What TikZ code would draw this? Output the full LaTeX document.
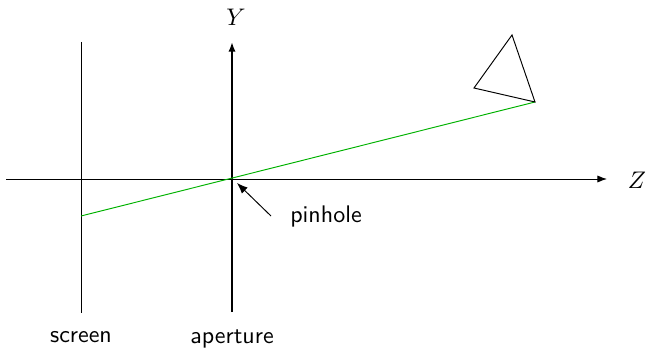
\documentclass[tikz,border=0pt]{standalone}
\usetikzlibrary{arrows.meta}
\begin{document}
\begin{tikzpicture}[x=0.4167pt,y=-0.4167pt,
  axis/.style={line width=0.4pt,-{Latex[length=4pt,width=3pt]}},
  lbl/.style={font=\sffamily,inner sep=1pt},
  ray/.style={green!70!black,line width=0.4pt}]
\useasboundingbox (0,0) rectangle (647,350);
% coordinates
\coordinate (zl) at (6,179);
\coordinate (zr) at (607,179);
\coordinate (yb) at (232,312);
\coordinate (yt) at (232,42);
\coordinate (st) at (81,42);
\coordinate (sb) at (81,313);
\coordinate (s) at (81,216);
\coordinate (t1) at (535,102);
\coordinate (t2) at (474,88);
\coordinate (t3) at (512,35);
\coordinate (ph) at (237,183);
\coordinate (pt) at (271,216);
% axes
\draw[axis] (zl) -- (zr);
\draw[axis,line width=0.9pt] (yb) -- (yt);
\draw[line width=0.4pt] (st) -- (sb);
% labels
\node (Z) at (637,180) {$Z$};
\node (Y) at (236,17) {$Y$};
\node[lbl] (screen) at (81,337) {screen};
\node[lbl] (aperture) at (232,339) {aperture};
\node[lbl] (pinhole) at (326,217) {pinhole};
% ray
\draw[ray] (s) -- (t1);
% triangle
\draw[line width=0.4pt] (t1) -- (t2) -- (t3) -- cycle;
% pinhole arrow
\draw[line width=0.4pt,-{Latex[length=4.5pt,width=3.5pt]}] (pt) -- (ph);
\end{tikzpicture}
\end{document}
